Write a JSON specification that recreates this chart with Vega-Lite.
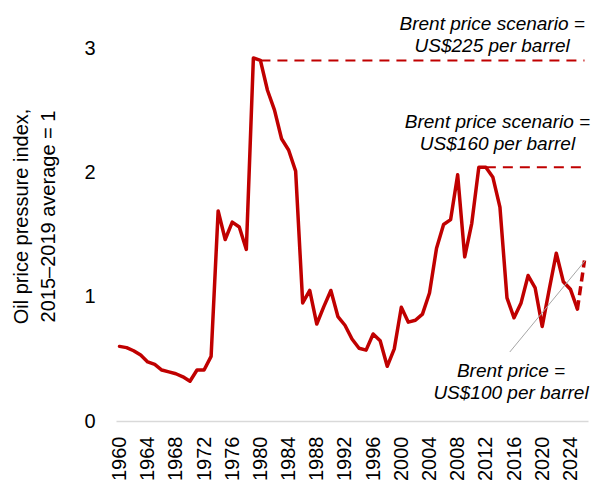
{
  "$schema": "https://vega.github.io/schema/vega-lite/v6.json",
  "autosize": {"type": "none"},
  "padding": {"left": 116, "top": 48, "right": 5, "bottom": 65},
  "width": 472,
  "height": 373,
  "background": "white",
  "config": {
    "view": {"stroke": null},
    "font": "Liberation Sans",
    "axis": {"grid": false}
  },
  "datasets": {
    "series": [
      {"year": 1960, "value": 0.60}, {"year": 1961, "value": 0.59}, {"year": 1962, "value": 0.565},
      {"year": 1963, "value": 0.53}, {"year": 1964, "value": 0.475}, {"year": 1965, "value": 0.455},
      {"year": 1966, "value": 0.41}, {"year": 1967, "value": 0.395}, {"year": 1968, "value": 0.38},
      {"year": 1969, "value": 0.355}, {"year": 1970, "value": 0.32}, {"year": 1971, "value": 0.41},
      {"year": 1972, "value": 0.41}, {"year": 1973, "value": 0.52}, {"year": 1974, "value": 1.69},
      {"year": 1975, "value": 1.46}, {"year": 1976, "value": 1.60}, {"year": 1977, "value": 1.56},
      {"year": 1978, "value": 1.38}, {"year": 1979, "value": 2.92}, {"year": 1980, "value": 2.90},
      {"year": 1981, "value": 2.66}, {"year": 1982, "value": 2.50}, {"year": 1983, "value": 2.27},
      {"year": 1984, "value": 2.18}, {"year": 1985, "value": 2.01}, {"year": 1986, "value": 0.95},
      {"year": 1987, "value": 1.05}, {"year": 1988, "value": 0.78}, {"year": 1989, "value": 0.92},
      {"year": 1990, "value": 1.05}, {"year": 1991, "value": 0.84}, {"year": 1992, "value": 0.77},
      {"year": 1993, "value": 0.66}, {"year": 1994, "value": 0.585}, {"year": 1995, "value": 0.57},
      {"year": 1996, "value": 0.70}, {"year": 1997, "value": 0.645}, {"year": 1998, "value": 0.44},
      {"year": 1999, "value": 0.58}, {"year": 2000, "value": 0.915}, {"year": 2001, "value": 0.795},
      {"year": 2002, "value": 0.81}, {"year": 2003, "value": 0.86}, {"year": 2004, "value": 1.03},
      {"year": 2005, "value": 1.39}, {"year": 2006, "value": 1.58}, {"year": 2007, "value": 1.62},
      {"year": 2008, "value": 1.98}, {"year": 2009, "value": 1.32}, {"year": 2010, "value": 1.59},
      {"year": 2011, "value": 2.04}, {"year": 2012, "value": 2.04}, {"year": 2013, "value": 1.96},
      {"year": 2014, "value": 1.72}, {"year": 2015, "value": 0.99}, {"year": 2016, "value": 0.83},
      {"year": 2017, "value": 0.95}, {"year": 2018, "value": 1.17}, {"year": 2019, "value": 1.07},
      {"year": 2020, "value": 0.76}, {"year": 2021, "value": 1.06}, {"year": 2022, "value": 1.35},
      {"year": 2023, "value": 1.12}, {"year": 2024, "value": 1.06}, {"year": 2025, "value": 0.90}
    ],
    "projection": [
      {"year": 2025, "value": 0.90},
      {"year": 2026, "value": 1.29}
    ],
    "scenarios": [
      {"scenario": "US$225", "start": 1980, "end": 2026, "value": 2.90},
      {"scenario": "US$160", "start": 2012, "end": 2026, "value": 2.04}
    ],
    "notes": [
      {"label": "Brent price scenario =\nUS$225 per barrel", "year": 2012.9, "value": 3.146},
      {"label": "Brent price scenario =\nUS$160 per barrel", "year": 2013.65, "value": 2.357},
      {"label": "Brent price =\nUS$100 per barrel", "year": 2015.57, "value": 0.354}
    ],
    "connector": [
      {"x1": 2015.4, "y1": 0.555, "x2": 2026.05, "y2": 1.287}
    ]
  },
  "layer": [
    {
      "data": {"name": "series"},
      "mark": {"type": "line", "color": "#C00000", "strokeWidth": 3.5, "strokeJoin": "round", "strokeCap": "round"},
      "encoding": {
        "x": {
          "field": "year", "type": "quantitative",
          "scale": {"domain": [1959.5, 2026.5], "nice": false, "zero": false},
          "axis": {
            "title": null,
            "values": [1960, 1964, 1968, 1972, 1976, 1980, 1984, 1988, 1992, 1996, 2000, 2004, 2008, 2012, 2016, 2020, 2024],
            "tickCount": 40,
            "format": "d",
            "labelAngle": -90,
            "labelFontSize": 20,
            "labelColor": "#000000",
            "labelPadding": 15,
            "labelFlush": false,
            "labelOverlap": false,
            "ticks": false,
            "domainColor": "#D9D9D9",
            "domainWidth": 1.5
          }
        },
        "y": {
          "field": "value", "type": "quantitative",
          "scale": {"domain": [0, 3], "nice": false},
          "axis": {
            "title": ["Oil price pressure index,", "2015\u20132019 average = 1"],
            "titleFontSize": 20,
            "titleFontWeight": "normal",
            "titleColor": "#000000",
            "titleLineHeight": 27,
            "titleAngle": -90,
            "titleBaseline": "top",
            "titleAlign": "center",
            "titleX": -105,
            "titleY": 168,
            "values": [0, 1, 2, 3],
            "format": "d",
            "labelFontSize": 20,
            "labelColor": "#000000",
            "labelPadding": 21,
            "domain": false,
            "ticks": false
          }
        }
      }
    },
    {
      "data": {"name": "scenarios"},
      "mark": {"type": "rule", "color": "#C00000", "strokeWidth": 2, "strokeDash": [10, 7]},
      "encoding": {
        "x": {"field": "start", "type": "quantitative"},
        "x2": {"field": "end"},
        "y": {"field": "value", "type": "quantitative"}
      }
    },
    {
      "data": {"name": "projection"},
      "mark": {"type": "line", "color": "#C00000", "strokeWidth": 3.5, "strokeDash": [9, 5]},
      "encoding": {
        "x": {"field": "year", "type": "quantitative"},
        "y": {"field": "value", "type": "quantitative"}
      }
    },
    {
      "data": {"name": "connector"},
      "mark": {"type": "rule", "color": "#A6A6A6", "strokeWidth": 1},
      "encoding": {
        "x": {"field": "x1", "type": "quantitative"},
        "y": {"field": "y1", "type": "quantitative"},
        "x2": {"field": "x2"},
        "y2": {"field": "y2"}
      }
    },
    {
      "data": {"name": "notes"},
      "mark": {"type": "text", "font": "Liberation Sans", "fontStyle": "italic", "fontSize": 19, "lineBreak": "\n", "lineHeight": 22, "align": "center", "baseline": "alphabetic", "color": "#000000"},
      "encoding": {
        "x": {"field": "year", "type": "quantitative"},
        "y": {"field": "value", "type": "quantitative"},
        "text": {"field": "label"}
      }
    }
  ]
}
